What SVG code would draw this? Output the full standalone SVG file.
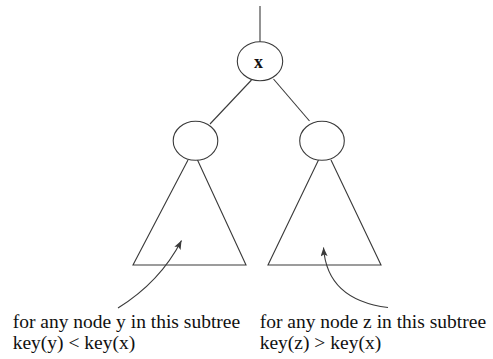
<svg xmlns="http://www.w3.org/2000/svg" width="493" height="359" viewBox="0 0 493 359">
  <style>
    .ln { fill: none; stroke: #3a3a3a; stroke-width: 1.1; }
    .node { fill: #ffffff; stroke: #3a3a3a; stroke-width: 1.1; }
    .lbl { font-family: "Liberation Serif", "Times New Roman", serif; font-size: 19.5px; fill: #111; }
    .key { font-family: "Liberation Serif", "Times New Roman", serif; font-size: 18px; font-weight: bold; fill: #111; }
  </style>
  <defs>
    <marker id="arrow" viewBox="0 0 10 8" refX="10" refY="4" markerWidth="9" markerHeight="7" markerUnits="userSpaceOnUse" orient="auto">
      <path d="M0,0 L10,4 L0,8 L2,4 Z" fill="#3a3a3a"/>
    </marker>
  </defs>
  <rect width="493" height="359" fill="#ffffff"/>

  <g id="connectors">
    <!-- link from parent into root -->
    <line class="ln" x1="260" y1="6" x2="260" y2="42"/>
    <!-- root to children -->
    <line class="ln" x1="251.5" y1="80" x2="210" y2="124"/>
    <line class="ln" x1="273.5" y1="79" x2="309.5" y2="121"/>
    <!-- pointers from captions into subtrees -->
    <path class="ln" d="M118,308 Q160,282 181.5,240.5" marker-end="url(#arrow)"/>
    <path class="ln" d="M388,307.5 Q327,300 323.5,247.5" marker-end="url(#arrow)"/>
  </g>

  <g id="subtree-left">
    <polyline class="ln" points="188,160 133,265 246,265 197.5,160"/>
  </g>
  <g id="subtree-right">
    <polyline class="ln" points="318.5,160 268,265 381,265 331,160"/>
  </g>

  <g id="root">
    <ellipse class="node" cx="260" cy="61.2" rx="22.7" ry="19.5"/>
    <text class="key" x="258.5" y="68.3" text-anchor="middle">x</text>
  </g>
  <g id="left-child">
    <ellipse class="node" cx="195.5" cy="140.8" rx="22.3" ry="19.5"/>
  </g>
  <g id="right-child">
    <ellipse class="node" cx="322" cy="140.8" rx="22.3" ry="19.5"/>
  </g>

  <g id="caption-left">
    <text class="lbl" x="12.7" y="327.5">for any node y in this subtree</text>
    <text class="lbl" x="12.7" y="349">key(y) &lt; key(x)</text>
  </g>
  <g id="caption-right">
    <text class="lbl" x="259.7" y="327.5">for any node z in this subtree</text>
    <text class="lbl" x="259.7" y="349">key(z) &gt; key(x)</text>
  </g>
</svg>
